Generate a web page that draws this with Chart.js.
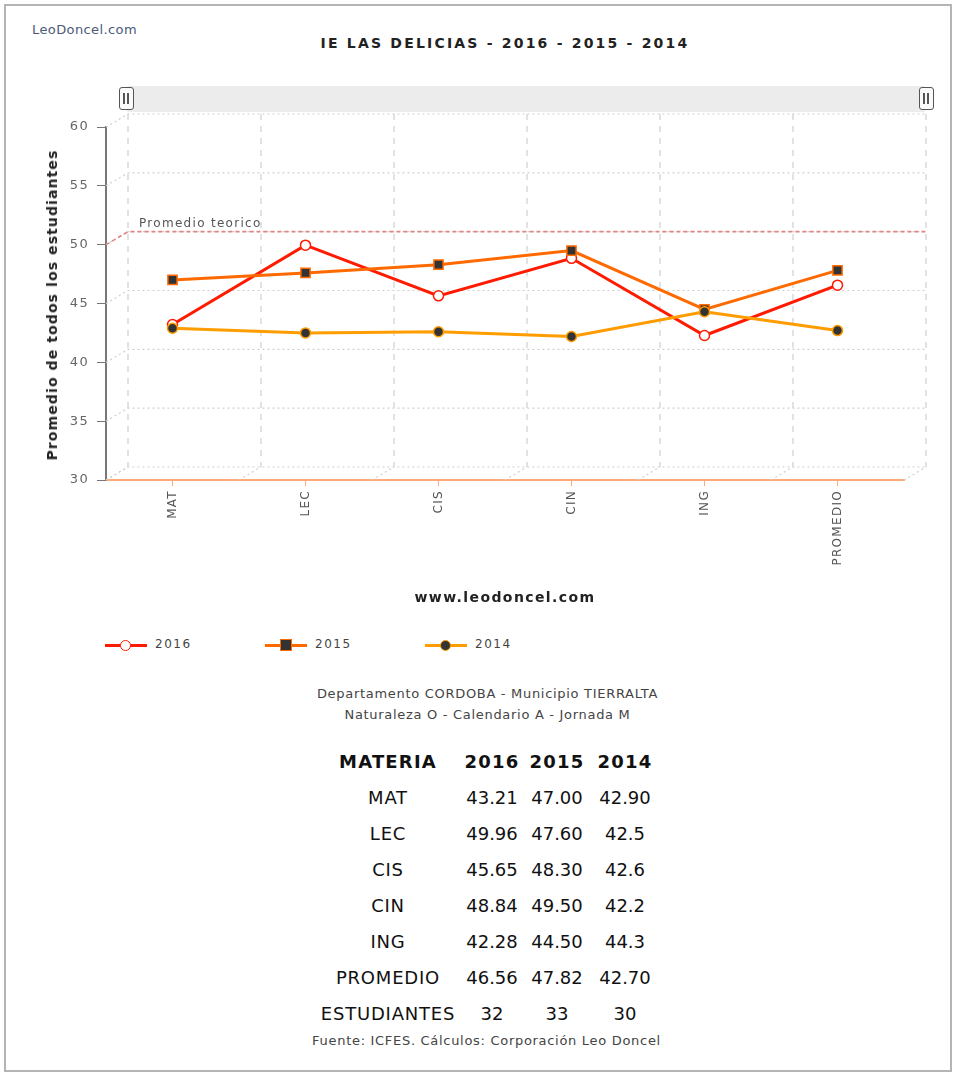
<!DOCTYPE html>
<html>
<head>
<meta charset="utf-8">
<script src="https://cdn.jsdelivr.net/npm/chart.js@4"></script>
<style>
body { margin: 0; background: #fff; font-family: "DejaVu Sans", Tahoma, sans-serif; }
#page { position: absolute; left: 4px; top: 4px; width: 944px; height: 1064px; border: 2px solid #b4b4b4; }
#wrap { position: absolute; left: 0; top: 0; width: 955px; height: 600px; }
.abs { position: absolute; white-space: nowrap; }
#brand { left: 32px; top: 22px; font-size: 13px; letter-spacing: 0.4px; color: #4a5a78; }
#title { left: 0; width: 1010px; top: 35px; text-align: center; font-size: 14px; font-weight: bold; color: #222; letter-spacing: 2.2px; }
#ytitle { left: 52px; top: 305px; font-size: 14px; font-weight: bold; color: #222; letter-spacing: 1.1px; transform: translate(-50%, -50%) rotate(-90deg); }
#xtitle { left: 0; width: 1010px; top: 589px; text-align: center; font-size: 14px; font-weight: bold; color: #222; letter-spacing: 1.4px; }
.scroll { position: absolute; left: 127px; top: 86px; width: 798px; height: 26px; background: #ececec; }
.handle { position: absolute; top: 87px; width: 13px; height: 21px; border: 1.5px solid #555; border-radius: 3px; background: #fafafa; }
.handle::before, .handle::after { content: ""; position: absolute; top: 5px; width: 2px; height: 11px; background: #555; }
.handle::before { left: 3px; } .handle::after { left: 7px; }
#legend { position: absolute; top: 636px; left: 0; height: 20px; font-size: 12px; color: #444; letter-spacing: 1.5px; }
.item { position: absolute; top: 0; height: 20px; }
.item .ln { position: absolute; left: 0; top: 8px; width: 42px; height: 3px; }
.item .mk { position: absolute; }
.item span { position: absolute; left: 50px; top: 1px; }
#info { left: 0; width: 975px; top: 683px; text-align: center; font-size: 13px; letter-spacing: 0.7px; color: #444; line-height: 21px; }
#tbl { position: absolute; left: 318px; top: 743px; border-collapse: collapse; font-size: 18px; color: #111; table-layout: fixed; }
#tbl td, #tbl th { padding: 0; height: 36px; text-align: center; }
#tbl th { font-weight: bold; letter-spacing: 1.2px; }
#tbl td:first-child { letter-spacing: 0.8px; }
#foot { left: 0; width: 973px; top: 1033px; text-align: center; font-size: 13px; letter-spacing: 0.7px; color: #444; }
</style>
</head>
<body>
<div id="page"></div>
<div class="abs" id="brand">LeoDoncel.com</div>
<div class="abs" id="title">IE LAS DELICIAS - 2016 - 2015 - 2014</div>
<div class="scroll"></div>
<div class="handle" style="left:119px"></div>
<div class="handle" style="left:919px"></div>
<div id="wrap"><canvas id="chart"></canvas></div>
<div class="abs" id="ytitle">Promedio de todos los estudiantes</div>
<div class="abs" id="xtitle">www.leodoncel.com</div>
<div id="legend"></div>
<div class="abs" id="info">Departamento CORDOBA - Municipio TIERRALTA<br>Naturaleza O - Calendario A - Jornada M</div>
<table id="tbl"><colgroup><col style="width:140px"><col style="width:68px"><col style="width:62px"><col style="width:74px"></colgroup><tbody id="tb"></tbody></table>
<div class="abs" id="foot">Fuente: ICFES. Cálculos: Corporación Leo Doncel</div>
<script>
const materias = ["MAT", "LEC", "CIS", "CIN", "ING", "PROMEDIO"]
const years = ["2016", "2015", "2014"]
const v2016 = [43.21, 49.96, 45.65, 48.84, 42.28, 46.56]
const v2015 = [47.00, 47.60, 48.30, 49.50, 44.50, 47.82]
const v2014 = [42.90, 42.5, 42.6, 42.2, 44.3, 42.70]
const estudiantes = ["32", "33", "30"]
const v2016txt = ["43.21", "49.96", "45.65", "48.84", "42.28", "46.56"]
const v2015txt = ["47.00", "47.60", "48.30", "49.50", "44.50", "47.82"]
const v2014txt = ["42.90", "42.5", "42.6", "42.2", "44.3", "42.70"]
const promedioTeorico = 50
const yTicks = [30, 35, 40, 45, 50, 55, 60]

const dx = 22, dy = -13

const spacing = {
    id: "spacing",
    beforeDraw(chart) {
        chart.ctx.letterSpacing = "1.3px"
    }
}

const backWall = {
    id: "backWall",
    beforeDatasetsDraw(chart) {
        const {ctx, chartArea: a, scales: {x, y}} = chart
        ctx.save()
        ctx.strokeStyle = "#cfcfcf"
        ctx.lineWidth = 1.2
        // horizontal dotted lines on back wall + diagonals from y axis
        ctx.setLineDash([2, 3])
        yTicks.forEach(t => {
            const py = y.getPixelForValue(t)
            ctx.beginPath()
            ctx.moveTo(a.left, py)
            ctx.lineTo(a.left + dx, py + dy)
            ctx.lineTo(a.right + dx, py + dy)
            ctx.stroke()
        })
        // vertical dashed lines at category boundaries
        ctx.setLineDash([6, 6])
        for (let i = 0; i <= materias.length; i++) {
            const px = a.left + (a.right - a.left) * i / materias.length
            ctx.beginPath()
            ctx.moveTo(px + dx, a.top + dy)
            ctx.lineTo(px + dx, a.bottom + dy)
            ctx.stroke()
            ctx.setLineDash([2, 3])
            ctx.beginPath()
            ctx.moveTo(px, a.bottom)
            ctx.lineTo(px + dx, a.bottom + dy)
            ctx.stroke()
            ctx.setLineDash([6, 6])
        }
        // promedio teorico
        const py = y.getPixelForValue(promedioTeorico)
        ctx.strokeStyle = "#e08585"
        ctx.lineWidth = 1.6
        ctx.setLineDash([4, 3])
        ctx.beginPath()
        ctx.moveTo(a.left, py)
        ctx.lineTo(a.left + dx, py + dy)
        ctx.lineTo(a.right + dx, py + dy)
        ctx.stroke()
        ctx.setLineDash([])
        ctx.fillStyle = "#555"
        ctx.font = "12px 'DejaVu Sans'"
        ctx.textBaseline = "bottom"
        ctx.fillText("Promedio teorico", a.left + dx + 11, py + dy - 2)
        ctx.restore()
    }
}

new Chart(document.getElementById("chart").getContext("2d"), {
    type: "line",
    data: {
        labels: materias,
        datasets: [{
            label: "2016", data: v2016,
            borderColor: "#ff1a00", borderWidth: 3,
            pointStyle: "circle", pointRadius: 5, pointBorderWidth: 1.5,
            pointBackgroundColor: "#fff", pointBorderColor: "#ff1a00"
        }, {
            label: "2015", data: v2015,
            borderColor: "#ff6a00", borderWidth: 3,
            pointStyle: "rect", pointRadius: 6.5, pointBorderWidth: 1.5,
            pointBackgroundColor: "#333", pointBorderColor: "#ff6a00"
        }, {
            label: "2014", data: v2014,
            borderColor: "#ff9c00", borderWidth: 3,
            pointStyle: "circle", pointRadius: 5, pointBorderWidth: 1.5,
            pointBackgroundColor: "#333", pointBorderColor: "#ff9c00"
        }].reverse()
    },
    options: {
        responsive: true,
        maintainAspectRatio: false,
        animation: false,
        layout: { padding: { left: 0, top: 127, right: 51, bottom: 0 } },
        plugins: { legend: { display: false }, tooltip: { enabled: false } },
        scales: {
            x: {
                offset: true,
                afterFit: s => { s.height = 120 },
                border: { color: "#ffaa77", width: 2 },
                grid: { drawOnChartArea: false, drawTicks: true, tickLength: 6, color: "#ffaa77" },
                ticks: { minRotation: 90, maxRotation: 90, color: "#555", padding: 4, font: { family: "DejaVu Sans", size: 12 } }
            },
            y: {
                min: 30, max: 60,
                afterFit: s => { s.width = 106 },
                border: { color: "#777", width: 2 },
                grid: { drawOnChartArea: false, drawTicks: true, tickLength: 9, color: "#777" },
                ticks: { stepSize: 5, color: "#666", padding: 8, font: { family: "DejaVu Sans", size: 13 } }
            }
        }
    },
    plugins: [spacing, backWall]
})

// legend
const legendItems = [
    {label: "2016", color: "#ff1a00", fill: "#fff", round: true, x: 105},
    {label: "2015", color: "#ff6a00", fill: "#333", round: false, x: 265},
    {label: "2014", color: "#ff9c00", fill: "#333", round: true, x: 425}
]
const legend = document.getElementById("legend")
legendItems.forEach(({label, color, fill, round, x}) => {
    const e = document.createElement("div")
    e.className = "item"
    e.style.left = x + "px"
    const size = round ? 10 : 11
    e.innerHTML = `<div class="ln" style="background:${color}"></div>` +
        `<div class="mk" style="left:${21 - size / 2 - 1}px;top:${9.5 - size / 2 - 1}px;width:${size - 1}px;height:${size - 1}px;` +
        `background:${fill};border:1.5px solid ${color};border-radius:${round ? "50%" : "0"}"></div>` +
        `<span>${label}</span>`
    legend.appendChild(e)
})

// table
const tb = document.getElementById("tb")
let html = `<tr><th>MATERIA</th>${years.map(y => `<th>${y}</th>`).join("")}</tr>`
materias.forEach((m, i) => {
    html += `<tr><td>${m}</td><td>${v2016txt[i]}</td><td>${v2015txt[i]}</td><td>${v2014txt[i]}</td></tr>`
})
html += `<tr><td>ESTUDIANTES</td>${estudiantes.map(s => `<td>${s}</td>`).join("")}</tr>`
tb.innerHTML = html
</script>
</body>
</html>
